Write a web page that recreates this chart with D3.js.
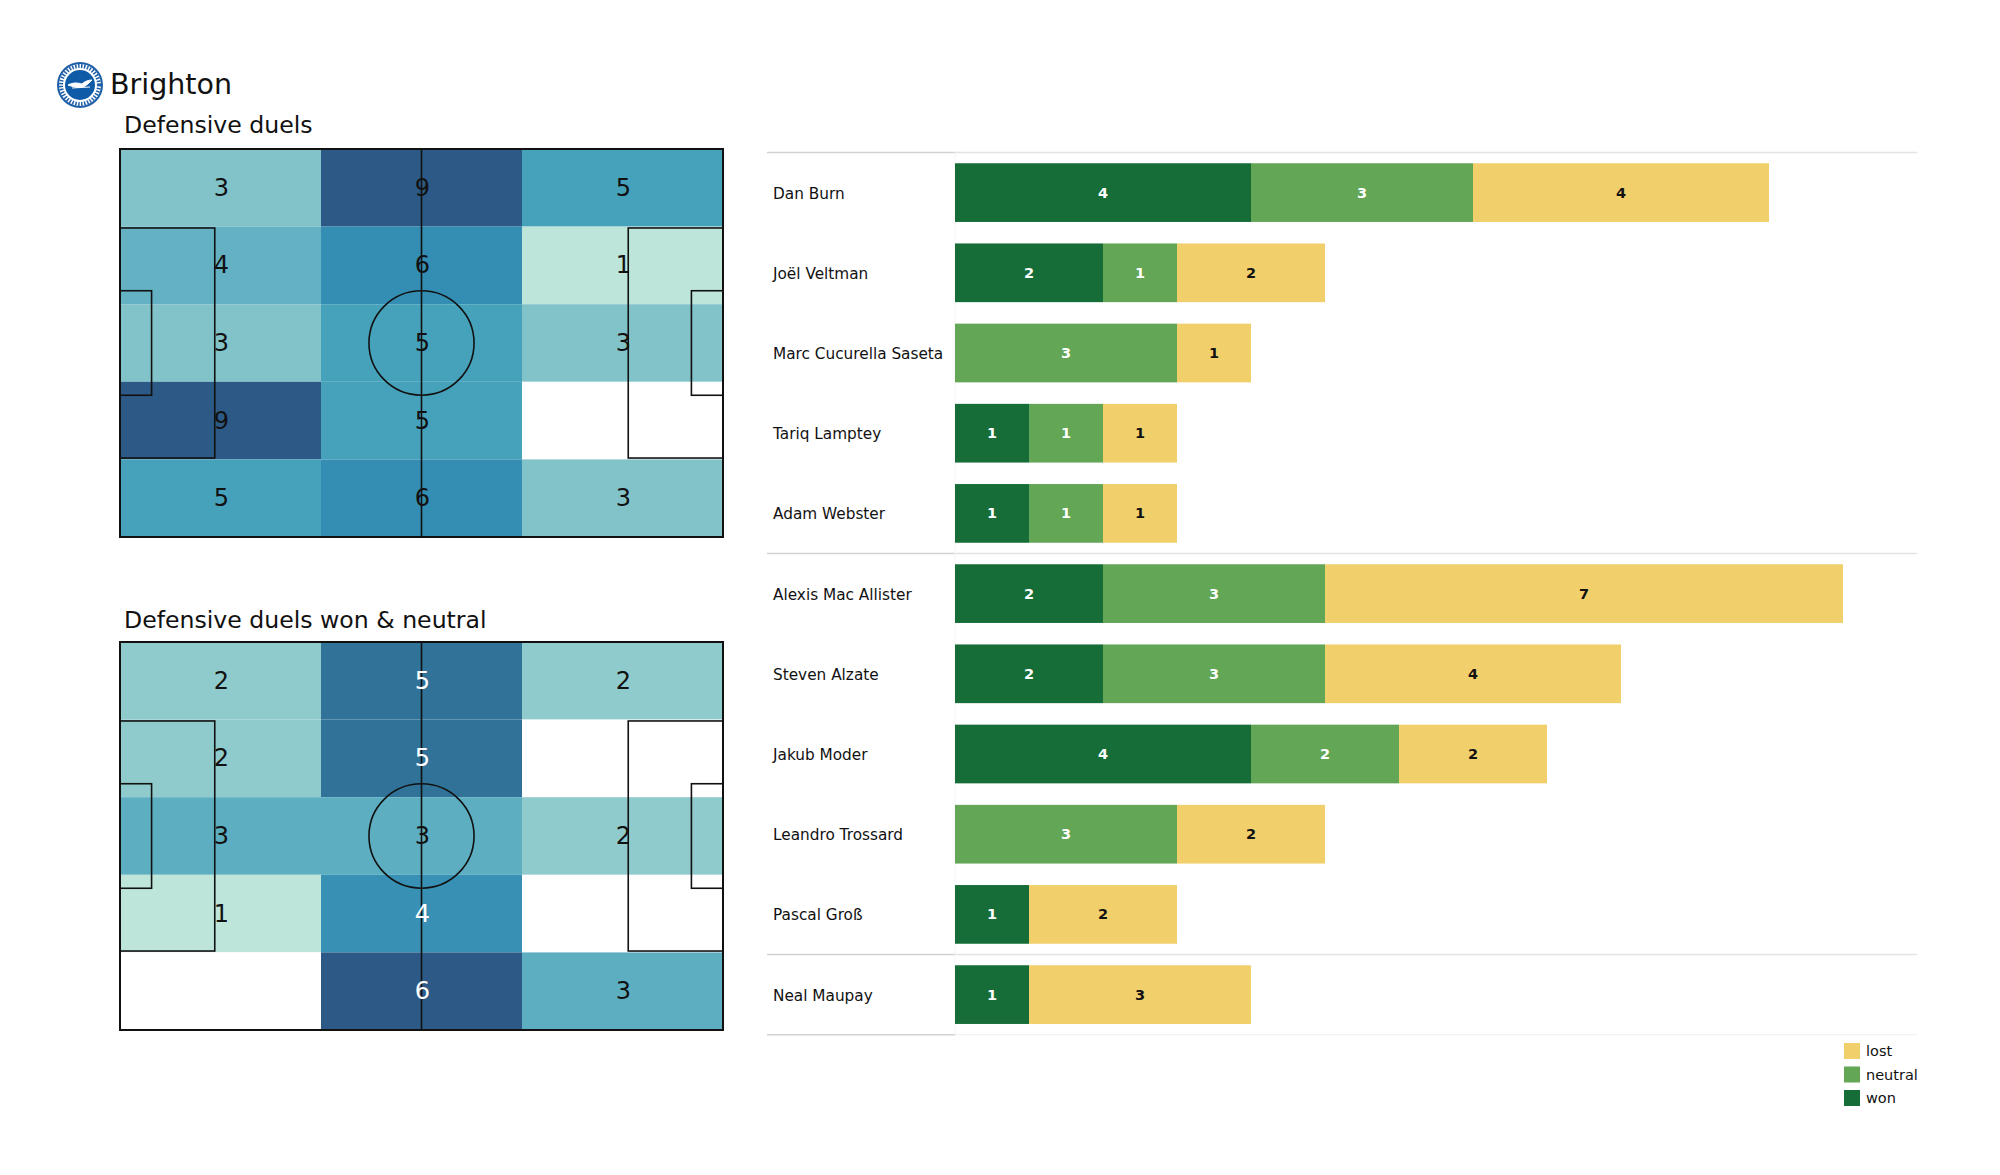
<!DOCTYPE html>
<html>
<head>
<meta charset="utf-8">
<script src="https://cdn.jsdelivr.net/npm/d3@7/dist/d3.min.js"></script>
<style>
  html, body { margin: 0; padding: 0; background: #fff; }
  svg { display: block; font-family: "DejaVu Sans", sans-serif; }
</style>
</head>
<body>
<svg id="chart" width="2000" height="1175"></svg>
<script>
// ---------------- DATA ----------------
const teamName = "Brighton";
const heatTitles = ["Defensive duels", "Defensive duels won & neutral"];
// 5 rows (top to bottom) x 3 columns (left to right)
const heatAll = [
  [3, 9, 5],
  [4, 6, 1],
  [3, 5, 3],
  [9, 5, 0],
  [5, 6, 3]
];
const heatWonNeutral = [
  [2, 5, 2],
  [2, 5, 0],
  [3, 3, 2],
  [1, 4, 0],
  [0, 6, 3]
];
const players = ["Dan Burn", "Joël Veltman", "Marc Cucurella Saseta", "Tariq Lamptey", "Adam Webster",
  "Alexis Mac Allister", "Steven Alzate", "Jakub Moder", "Leandro Trossard", "Pascal Groß", "Neal Maupay"];
const wonValues     = [4, 2, 0, 1, 1, 2, 2, 4, 0, 1, 1];
const neutralValues = [3, 1, 3, 1, 1, 3, 3, 2, 3, 0, 0];
const lostValues    = [4, 2, 1, 1, 1, 7, 4, 2, 2, 2, 3];
const groupSizes = [5, 5, 1];
const seriesKeys = ["won", "neutral", "lost"];
const legendLabels = ["lost", "neutral", "won"];

// ---------------- SETUP ----------------
const svg = d3.select("#chart");
const colors = { won: "#166d38", neutral: "#62a656", lost: "#f1d06b" };

// Header
const logo = svg.append("g").attr("transform", "translate(80,85)");
logo.append("circle").attr("r", 22).attr("fill", "#fff").attr("stroke", "#1f5fa8").attr("stroke-width", 2);
logo.append("circle").attr("r", 19).attr("fill", "none").attr("stroke", "#1f5fa8").attr("stroke-width", 4).attr("stroke-dasharray", "1.5,1.5");
logo.append("circle").attr("r", 15).attr("fill", "#0f5ba8");
logo.append("path")
  .attr("d", "M-12,0 C-6,-3 -2,-2 2,-1 C5,-4 9,-5 12,-5 C9,-2 7,0 5,1 C2,3 -4,3 -12,0 Z M-8,3 L10,2")
  .attr("fill", "#fff").attr("stroke", "#fff").attr("stroke-width", 1);

svg.append("text").attr("x", 110).attr("y", 94).attr("font-size", 28.5).attr("fill", "#111").text(teamName);

// ---------------- PITCH HEATMAPS ----------------
const stops = [0, 0.2, 0.375, 0.5, 0.625, 0.8, 1];
const stopColors = ["#bde5d9", "#8fcacc", "#63b1c3", "#46a2bb", "#348db2", "#317398", "#2c5985"];

function drawPitch(grid, title, top, whiteFrom, titleOffset) {
  const x = d3.scaleLinear().domain([0, 105]).range([120, 723]);
  const y = d3.scaleLinear().domain([0, 68]).range([top, top + 388]);
  const g = svg.append("g");
  g.append("text").attr("x", 124).attr("y", top - titleOffset).attr("font-size", 23.6).attr("fill", "#111").text(title);

  const flat = grid.flat();
  const nz = flat.filter(v => v > 0);
  const mn = d3.min(nz), mx = d3.max(nz);
  const norm = d3.scaleLinear().domain([mn, mx]).range([0, 1]);
  const col = d3.scaleLinear().domain(stops).range(stopColors).interpolate(d3.interpolateRgb);
  const nRows = grid.length, nCols = grid[0].length;
  const bx = d3.scaleLinear().domain([0, nCols]).range([0, 105]);
  const by = d3.scaleLinear().domain([0, nRows]).range([0, 68]);

  const cells = [];
  grid.forEach((row, r) => row.forEach((v, c) => cells.push({ r, c, v })));
  g.selectAll("rect.cell").data(cells).join("rect")
    .attr("class", "cell")
    .attr("x", d => x(bx(d.c)))
    .attr("y", d => y(by(d.r)))
    .attr("width", d => x(bx(d.c + 1)) - x(bx(d.c)))
    .attr("height", d => y(by(d.r + 1)) - y(by(d.r)))
    .attr("fill", d => d.v > 0 ? col(norm(d.v)) : "#ffffff");

  const lineStyle = s => s.attr("fill", "none").attr("stroke", "#111").attr("stroke-width", 1.6);
  lineStyle(g.append("rect").attr("x", x(0)).attr("y", y(0)).attr("width", x(105) - x(0)).attr("height", y(68) - y(0)))
    .attr("stroke-width", 2);
  lineStyle(g.append("line").attr("x1", x(52.5)).attr("x2", x(52.5)).attr("y1", y(0)).attr("y2", y(68)));
  lineStyle(g.append("ellipse").attr("cx", x(52.5)).attr("cy", y(34))
    .attr("rx", x(9.15) - x(0)).attr("ry", y(9.15) - y(0)));
  lineStyle(g.append("rect").attr("x", x(0)).attr("y", y(34 - 20.16)).attr("width", x(16.5) - x(0)).attr("height", y(40.32) - y(0)));
  lineStyle(g.append("rect").attr("x", x(105 - 16.5)).attr("y", y(34 - 20.16)).attr("width", x(16.5) - x(0)).attr("height", y(40.32) - y(0)));
  lineStyle(g.append("rect").attr("x", x(0)).attr("y", y(34 - 9.16)).attr("width", x(5.5) - x(0)).attr("height", y(18.32) - y(0)));
  lineStyle(g.append("rect").attr("x", x(105 - 5.5)).attr("y", y(34 - 9.16)).attr("width", x(5.5) - x(0)).attr("height", y(18.32) - y(0)));

  g.selectAll("text.val").data(cells.filter(d => d.v > 0)).join("text")
    .attr("class", "val")
    .attr("x", d => x(bx(d.c + 0.5)) + 1)
    .attr("y", d => y(by(d.r + 0.5)))
    .attr("text-anchor", "middle").attr("dominant-baseline", "central")
    .attr("font-size", 24)
    .attr("fill", d => d.v >= whiteFrom ? "#fff" : "#111")
    .text(d => d.v);
}
drawPitch(heatAll, heatTitles[0], 149, Infinity, 16);
drawPitch(heatWonNeutral, heatTitles[1], 642, 4, 14);

// ---------------- STACKED BARS ----------------
const rows = players.map((p, i) => ({ player: p, won: wonValues[i], neutral: neutralValues[i], lost: lostValues[i] }));
const stack = d3.stack().keys(seriesKeys)(rows);
const xb = d3.scaleLinear().domain([0, 12]).range([955, 1843]);
const yb = d3.scaleBand().domain(players).range([152.5, 1034.7]).paddingInner(0.268).paddingOuter(0.134);

const bg = svg.append("g");
let cum = 0;
const bounds = [0];
groupSizes.forEach(s => { cum += s; bounds.push(cum); });
const step = yb.step();
bounds.forEach((b, i) => {
  const yy = 152.5 + b * step;
  bg.append("line").attr("x1", 767).attr("x2", 955).attr("y1", yy).attr("y2", yy)
    .attr("stroke", "#d2d2d2").attr("stroke-width", 1.5);
  bg.append("line").attr("x1", 955).attr("x2", 1917).attr("y1", yy).attr("y2", yy)
    .attr("stroke", i === bounds.length - 1 ? "#f3f3f3" : "#e3e3e3").attr("stroke-width", 1.3);
});
bg.append("line").attr("x1", 955).attr("x2", 955).attr("y1", 152.5).attr("y2", 1034.7)
  .attr("stroke", "#f4f4f4").attr("stroke-width", 1);

stack.forEach(layer => {
  const key = layer.key;
  const lg = bg.append("g");
  lg.selectAll("rect").data(layer.filter(d => d[1] > d[0])).join("rect")
    .attr("x", d => xb(d[0]))
    .attr("y", d => yb(d.data.player))
    .attr("width", d => xb(d[1]) - xb(d[0]))
    .attr("height", yb.bandwidth())
    .attr("fill", colors[key]);
  lg.selectAll("text").data(layer.filter(d => d[1] > d[0])).join("text")
    .attr("x", d => (xb(d[0]) + xb(d[1])) / 2)
    .attr("y", d => yb(d.data.player) + yb.bandwidth() / 2)
    .attr("text-anchor", "middle").attr("dominant-baseline", "central")
    .attr("font-size", 14.5).attr("font-weight", "bold")
    .attr("fill", key === "lost" ? "#111" : "#fff")
    .text(d => d[1] - d[0]);
});

bg.selectAll("text.player").data(players).join("text")
  .attr("class", "player")
  .attr("x", 773)
  .attr("y", d => yb(d) + yb.bandwidth() / 2 + 1)
  .attr("dominant-baseline", "central")
  .attr("font-size", 15.3).attr("fill", "#111")
  .text(d => d);

const leg = svg.append("g");
legendLabels.forEach((l, i) => {
  const yy = 1043 + i * 23.5;
  leg.append("rect").attr("x", 1844).attr("y", yy).attr("width", 16).attr("height", 16).attr("fill", colors[l]);
  leg.append("text").attr("x", 1866).attr("y", yy + 8).attr("dominant-baseline", "central")
    .attr("font-size", 14.5).attr("fill", "#111").text(l);
});
</script>
</body>
</html>
